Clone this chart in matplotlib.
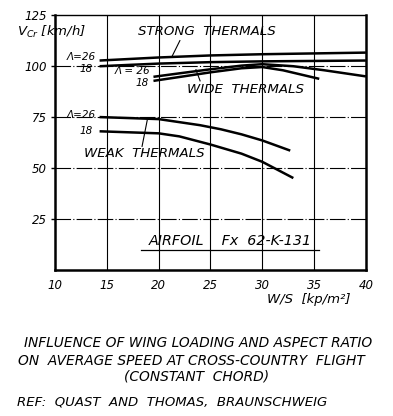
import numpy as np
import matplotlib
matplotlib.use("Agg")
import matplotlib.pyplot as plt

# wing loading W/S [kp/m^2] and average cross-country speed [km/h]
strong26_x = [14.3, 20, 25, 30, 35, 40]
strong26_y = [102.8, 104.3, 105.3, 105.9, 106.3, 106.7]
strong18_x = [14.3, 20, 25, 30, 35, 40]
strong18_y = [100.0, 101.3, 102.0, 102.4, 102.6, 102.8]
wide26_x = [19.5, 22, 25, 28, 30, 33, 36, 40]
wide26_y = [94.8, 96.5, 98.5, 100.3, 101.0, 100.0, 98.0, 95.0]
wide18_x = [19.5, 22, 25, 28, 30, 32, 35.5]
wide18_y = [92.8, 94.7, 97.0, 99.0, 99.6, 98.0, 93.8]
weak26_x = [14.3, 20, 24, 26, 28, 30, 32.7]
weak26_y = [75.0, 74.0, 71.0, 69.0, 66.5, 63.5, 58.5]
weak18_x = [14.3, 20, 22, 25, 28, 30, 33]
weak18_y = [68.0, 67.0, 65.5, 61.5, 57.0, 53.0, 45.0]

xticks = [10, 15, 20, 25, 30, 35, 40]
yticks = [25, 50, 75, 100, 125]

FS = dict(family="DejaVu Sans", style="italic")

fig = plt.figure(figsize=(3.93, 4.16), dpi=100)
ax = fig.add_axes([0.140, 0.352, 0.791, 0.611])
ax.set_xlim(10, 40)
ax.set_ylim(0, 125)

for v in [15, 20, 25, 30, 35]:
    ax.axvline(v, color="black", lw=0.8)
for h in [25, 50, 75, 100]:
    ax.axhline(h, color="black", lw=0.8, ls=(0, (14, 2, 1, 2)))

for xs, ys in [(strong26_x, strong26_y), (strong18_x, strong18_y),
               (wide26_x, wide26_y), (wide18_x, wide18_y),
               (weak26_x, weak26_y), (weak18_x, weak18_y)]:
    ax.plot(xs, ys, color="black", lw=1.8, solid_capstyle="butt")

ax.set_xticks(xticks)
ax.set_yticks(yticks)
ax.set_xticklabels([str(t) for t in xticks], fontsize=8.5, **FS)
ax.set_yticklabels([str(t) for t in yticks], fontsize=8.5, **FS)
ax.tick_params(axis="x", length=0, pad=7)
ax.tick_params(axis="y", length=3, width=1, pad=3)
for s in ["left", "bottom", "right"]:
    ax.spines[s].set_linewidth(1.8)
ax.spines["top"].set_linewidth(1.0)

# aspect ratio labels
lab = dict(fontsize=7.5, ha="right", va="center", **FS)
ax.text(13.9, 104.4, "Λ=26", **lab)
ax.text(13.6, 98.6, "18", **lab)
ax.text(19.2, 97.6, "Λ = 26", **lab)
ax.text(19.0, 91.6, "18", **lab)
ax.text(13.9, 76.0, "Λ=26", **lab)
ax.text(13.6, 68.0, "18", **lab)

# group labels with leaders
grp = dict(fontsize=9.6, ha="center", va="center", **FS)
ax.text(24.7, 117.0, "STRONG  THERMALS", **grp)
ax.plot([22.05, 21.3], [112.6, 104.9], color="black", lw=0.8)
ax.text(28.4, 88.8, "WIDE  THERMALS", **grp)
ax.plot([23.6, 24.0], [98.3, 92.8], color="black", lw=0.8)
ax.text(18.6, 57.2, "WEAK  THERMALS", **grp)
ax.plot([18.9, 18.4], [73.5, 60.6], color="black", lw=0.8)

ax.text(26.9, 14.0, "AIRFOIL    Fx  62-K-131", fontsize=10.3, ha="center", va="center", **FS)
ax.plot([18.3, 35.5], [9.7, 9.7], color="black", lw=0.9)

fig.text(0.043, 0.922, r"$V_{Cr}$ [km/h]", fontsize=9.5, ha="left", va="center", **FS)
fig.text(0.785, 0.279, "W/S  [kp/m²]", fontsize=9.5, ha="center", va="center", **FS)

cap = dict(fontsize=9.9, va="center", **FS)
fig.text(0.503, 1 - 343 / 416, "INFLUENCE OF WING LOADING AND ASPECT RATIO", ha="center", **cap)
fig.text(0.486, 1 - 361 / 416, "ON  AVERAGE SPEED AT CROSS-COUNTRY  FLIGHT", ha="center", **cap)
fig.text(0.5, 1 - 377 / 416, "(CONSTANT  CHORD)", ha="center", **cap)
fig.text(0.043, 1 - 402 / 416, "REF:  QUAST  AND  THOMAS,  BRAUNSCHWEIG", ha="left", fontsize=9.5, va="center", **FS)

fig.savefig("out.png", dpi=100)
plt.close(fig)
